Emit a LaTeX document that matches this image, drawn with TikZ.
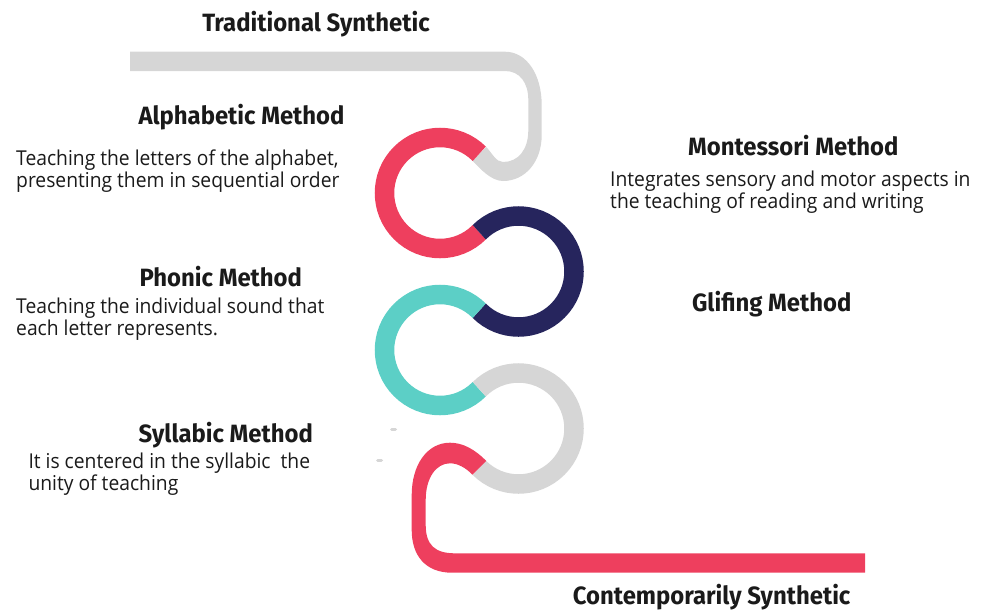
\documentclass[tikz,border=0pt]{standalone}
\usepackage{fontspec}
\setmainfont{Open Sans}[FakeStretch=0.94]
\newfontfamily\headfont{Fira Sans}[FakeStretch=0.955]
\definecolor{redc}{HTML}{EE3F5E}
\definecolor{navyc}{HTML}{26255D}
\definecolor{tealc}{HTML}{5CCFC6}
\definecolor{grayc}{HTML}{D6D6D6}
\definecolor{ink}{HTML}{1A1A1A}
\begin{document}
\begin{tikzpicture}[x=1pt,y=-1pt,
  arcline/.style={line width=19.5pt, line cap=butt},
  head/.style={font=\headfont\bfseries\fontsize{25}{29}\selectfont, text=ink, inner sep=0pt, anchor=base},
  body/.style={font=\fontsize{20.5}{23}\selectfont, text=ink, inner sep=0pt, anchor=base west},
  tick/.style={grayc, line width=3pt, line cap=round}]
\useasboundingbox (0,0) rectangle (984,611);
% top gray hook (Traditional Synthetic)
\fill[grayc] (130,51.7) -- (505,51.7) .. controls (527,51.7) and (541.7,75) .. (541.7,105)
  -- (541.7,135) .. controls (541.7,162) and (525,181) .. (503,181)
  .. controls (491,181) and (480,168.5) .. (472.35,160.65)
  -- (486.14,146.86) .. controls (492,153) and (496,162) .. (503,162)
  .. controls (518,162) and (528.3,150) .. (528.3,130) -- (528.3,100)
  .. controls (528.3,83) and (520,71) .. (505,71) -- (130,71) -- cycle;
% arcs
\draw[redc, arcline] (440,193) ++(-45:55.5) arc[start angle=-45, end angle=-315, radius=55.5];
\draw[navyc, arcline] (518.5,271.5) ++(-135:55.5) arc[start angle=-135, end angle=135, radius=55.5];
\draw[tealc, arcline] (440,350) ++(-45:55.5) arc[start angle=-45, end angle=-315, radius=55.5];
\draw[grayc, arcline] (518.5,428.5) ++(-135:55.5) arc[start angle=-135, end angle=135, radius=55.5];
% bottom red hook (Contemporarily Synthetic)
\fill[redc] (486.15,460.85) .. controls (475,449.5) and (463,442.7) .. (450,442.7)
  .. controls (427,442.7) and (411.7,465) .. (411.7,495) -- (411.7,530)
  .. controls (411.7,555) and (425,572.7) .. (452,572.7) -- (865,572.7) -- (865,553.3)
  -- (455,553.3) .. controls (435,553.3) and (425.7,545) .. (425.7,525) -- (425.7,500)
  .. controls (425.7,478) and (436,463.3) .. (450,463.3)
  .. controls (458,463.3) and (466,468) .. (472.36,474.64) -- cycle;
% small marks
\draw[tick] (391.5,429) -- (395.5,429);
\draw[tick] (377.5,460.5) -- (381.5,460.5);
% headings
\node[head] (ts) at (316,31) {Traditional Synthetic};
\node[head] (alph) at (241.5,124) {Alphabetic Method};
\node[head] (mont) at (793.3,155) {Montessori Method};
\node[head] (phon) at (220.8,286) {Phonic Method};
\node[head] (glif) at (771.7,311.5) {Glifing Method};
\node[head] (syll) at (225.8,442.7) {Syllabic Method};
\node[head] (cs) at (711.7,604) {Contemporarily Synthetic};
% body texts
\node[body] (a1) at (16,165.5) {Teaching the letters of the alphabet,};
\node[body] (a2) at (16,187) {presenting them in sequential order};
\node[body] (m1) at (610,186) {Integrates sensory and motor aspects in};
\node[body] (m2) at (610,208.3) {the teaching of reading and writing};
\node[body] (p1) at (16,313.3) {Teaching the individual sound that};
\node[body] (p2) at (16,335) {each letter represents.};
\node[body] (s1) at (28.3,468.3) {It is centered in the syllabic\ \ the};
\node[body] (s2) at (28.3,490) {unity of teaching};
\end{tikzpicture}
\end{document}
